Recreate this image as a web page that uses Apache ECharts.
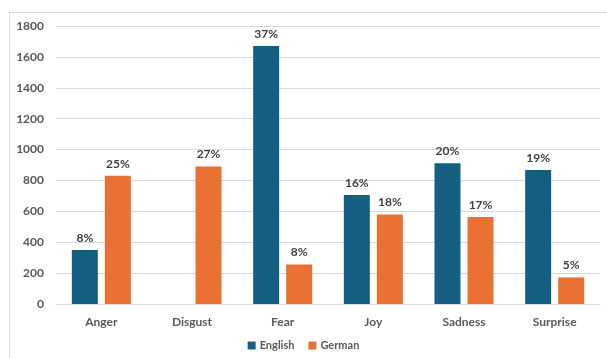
<!DOCTYPE html>
<html>
<head>
<meta charset="utf-8">
<script src="https://cdn.jsdelivr.net/npm/echarts@6/dist/echarts.min.js"></script>
<style>
  html, body { margin: 0; padding: 0; background: #fff; }
  #chart { width: 607px; height: 358px; }
</style>
</head>
<body>
<div id="chart"></div>
<script>
// Emotion counts per language
const categories = ['Anger', 'Disgust', 'Fear', 'Joy', 'Sadness', 'Surprise'];
const englishValues = [350, 0, 1670, 705, 912, 867];
const germanValues = [830, 890, 256, 580, 563, 172];
const yTicks = { min: 0, max: 1800, interval: 200 };

const FONT = 'Lato, "Open Sans", sans-serif';

// Label each bar with its share of the language total
function shareLabel(values) {
  const total = values.reduce((a, b) => a + b, 0);
  return function (p) {
    if (!p.value) return '';
    return Math.round(p.value / total * 100) + '%';
  };
}

const chart = echarts.init(document.getElementById('chart'), null, { renderer: 'canvas' });

chart.setOption({
  animation: false,
  backgroundColor: '#fff',
  graphic: [{
    type: 'rect',
    shape: { x: 9.5, y: 12.5, width: 700, height: 400 },
    style: { fill: 'none', stroke: '#d9d9d9', lineWidth: 1 },
    silent: true
  }],
  grid: { left: 56, right: 7, top: 26, bottom: 54, containLabel: false },
  legend: {
    data: ['English', 'German'],
    bottom: 2,
    left: 'center',
    itemWidth: 8,
    itemHeight: 8,
    itemGap: 14,
    icon: 'rect',
    textStyle: { fontFamily: FONT, fontSize: 11, fontWeight: 'bold', color: '#595959', padding: [0, 0, 0, -1] }
  },
  xAxis: {
    type: 'category',
    data: categories,
    axisLine: { lineStyle: { color: '#d9d9d9', width: 1 } },
    axisTick: { show: false },
    axisLabel: { fontFamily: FONT, fontSize: 12, fontWeight: 'bold', color: '#595959', margin: 12 }
  },
  yAxis: {
    type: 'value',
    min: yTicks.min,
    max: yTicks.max,
    interval: yTicks.interval,
    axisLine: { show: false },
    axisTick: { show: false },
    splitLine: { lineStyle: { color: '#d9d9d9', width: 1 } },
    axisLabel: {
      fontFamily: FONT, fontSize: 12, fontWeight: 'bold', color: '#595959', margin: 12,
      formatter: function (v) { return String(v); }
    }
  },
  series: [
    {
      name: 'English',
      type: 'bar',
      data: englishValues,
      barWidth: 26,
      barGap: '27%',
      itemStyle: { color: '#156082' },
      label: {
        show: true, position: 'top', distance: 6,
        formatter: shareLabel(englishValues),
        fontFamily: FONT, fontSize: 12, fontWeight: 'bold', color: '#404040'
      }
    },
    {
      name: 'German',
      type: 'bar',
      data: germanValues,
      barWidth: 26,
      barGap: '27%',
      itemStyle: { color: '#E97132' },
      label: {
        show: true, position: 'top', distance: 6,
        formatter: shareLabel(germanValues),
        fontFamily: FONT, fontSize: 12, fontWeight: 'bold', color: '#404040'
      }
    }
  ]
});
</script>
</body>
</html>
